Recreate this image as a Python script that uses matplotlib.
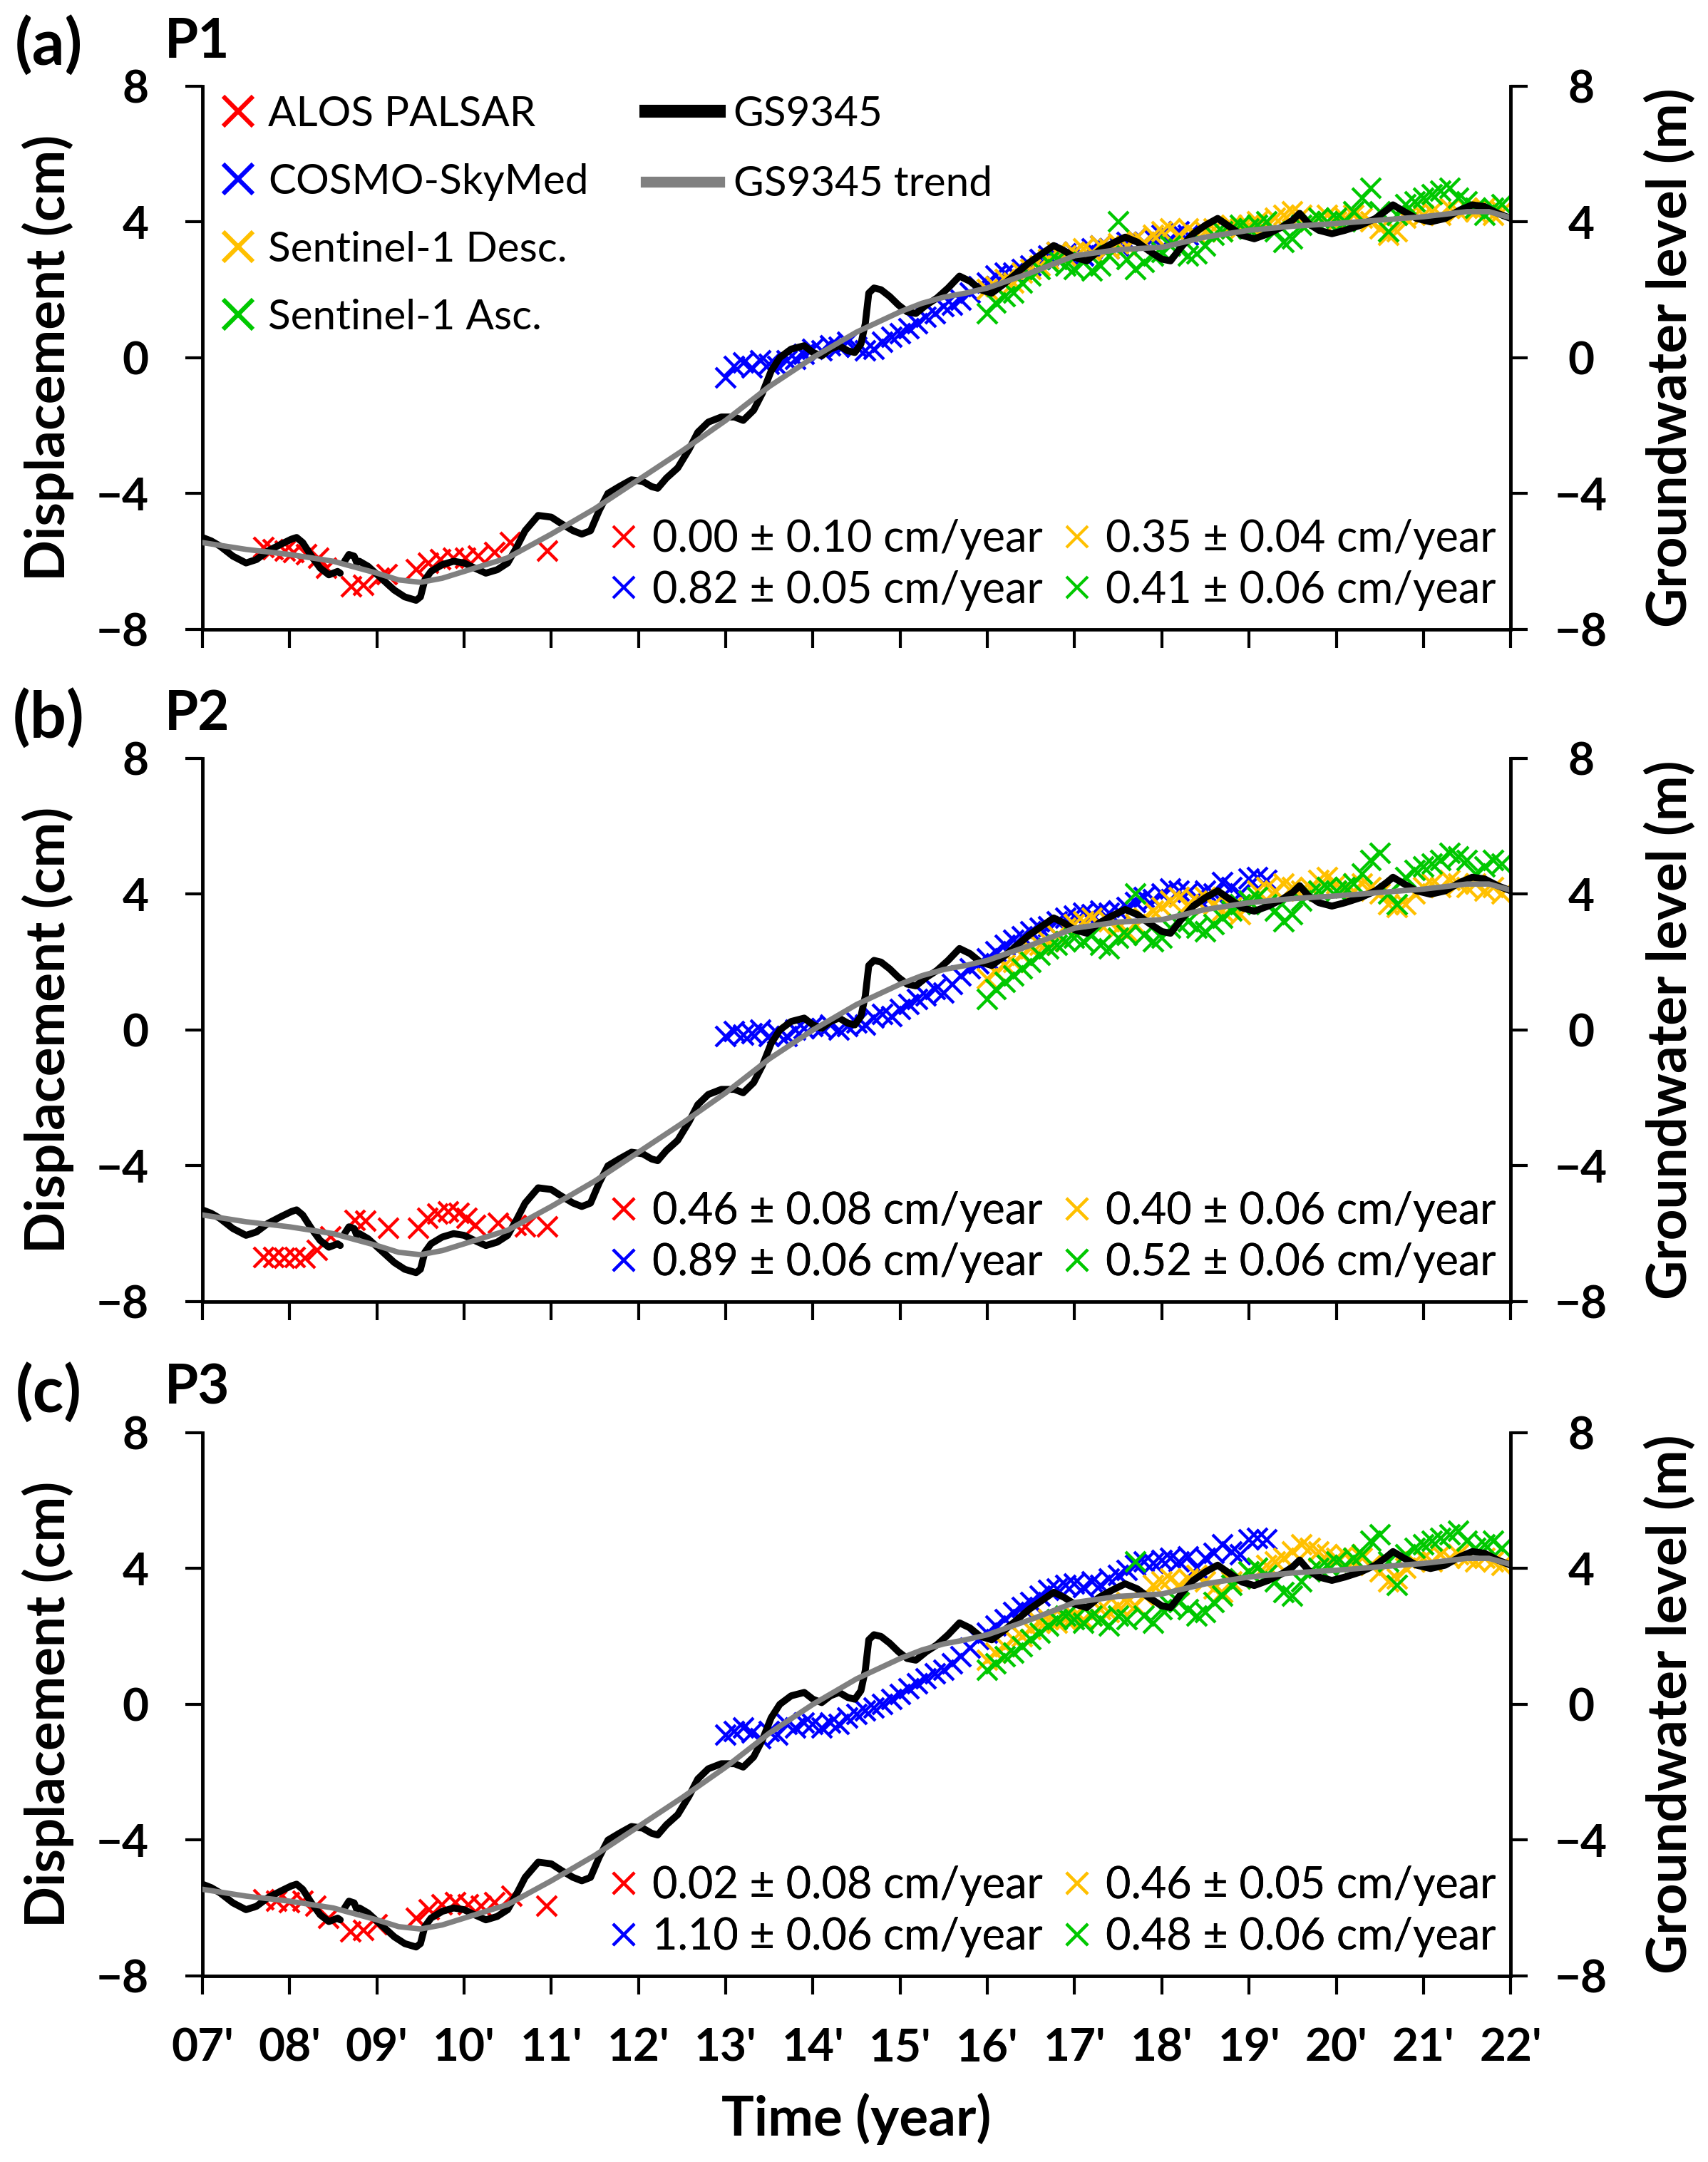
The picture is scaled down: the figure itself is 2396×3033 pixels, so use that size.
import numpy as np
import matplotlib
matplotlib.use('Agg')
import matplotlib.pyplot as plt
from matplotlib.lines import Line2D

plt.rcParams['font.family'] = ['Lato', 'DejaVu Sans']
plt.rcParams['axes.unicode_minus'] = True

# ---------------- data ----------------
year_ticks = list(range(2007, 2023))
year_labels = ["07'", "08'", "09'", "10'", "11'", "12'", "13'", "14'", "15'",
               "16'", "17'", "18'", "19'", "20'", "21'", "22'"]

# Groundwater level GS9345 (m)  (nan = data gap)
gw_t = [2007.00, 2007.10, 2007.20, 2007.35, 2007.50, 2007.62, 2007.75, 2007.90, 2008.02, 2008.08,
        2008.15, 2008.25, 2008.35, 2008.45, 2008.55, 2008.58, np.nan, 2008.63, 2008.68, 2008.74,
        2008.77, np.nan, 2008.80, 2008.90, 2009.05, 2009.20, 2009.32, 2009.45, 2009.50, 2009.55,
        2009.62, 2009.75, 2009.88, 2010.00, 2010.12, 2010.25, 2010.38, 2010.50, 2010.60, 2010.70,
        2010.85, 2011.00, 2011.12, 2011.25, 2011.35, 2011.45, 2011.55, 2011.65, 2011.78, 2011.92,
        2012.05, 2012.15, 2012.22, 2012.32, 2012.45, 2012.58, 2012.68, 2012.80, 2012.95, 2013.10,
        2013.20, 2013.32, 2013.42, 2013.52, 2013.62, 2013.75, 2013.90, 2014.00, 2014.10, 2014.20,
        2014.30, 2014.40, 2014.48, 2014.55, 2014.60, 2014.64, 2014.70, 2014.78, 2014.88, 2014.98,
        2015.08, 2015.18, 2015.30, 2015.42, 2015.55, 2015.68, 2015.80, 2015.92, 2016.05, 2016.18,
        2016.32, 2016.48, 2016.62, 2016.76, 2016.88, 2017.00, 2017.14, 2017.28, 2017.42, 2017.58,
        2017.72, 2017.85, 2018.00, 2018.10, 2018.22, 2018.36, 2018.50, 2018.64, 2018.78, 2018.92,
        2019.06, 2019.22, 2019.38, 2019.50, 2019.58, 2019.68, 2019.80, 2019.95, 2020.10, 2020.28,
        2020.45, 2020.58, 2020.65, 2020.78, 2020.92, 2021.08, 2021.25, 2021.42, 2021.56, 2021.70,
        2021.85, 2022.00]
gw_v = [-5.30, -5.40, -5.55, -5.85, -6.05, -5.95, -5.70, -5.50, -5.35, -5.30,
        -5.45, -5.85, -6.20, -6.40, -6.30, -6.35, np.nan, -6.00, -5.80, -5.85,
        -6.05, np.nan, -6.00, -6.15, -6.50, -6.85, -7.05, -7.15, -7.05, -6.55,
        -6.30, -6.10, -6.00, -6.05, -6.20, -6.35, -6.25, -6.05, -5.60, -5.10,
        -4.65, -4.70, -4.90, -5.10, -5.20, -5.10, -4.50, -4.00, -3.80, -3.60,
        -3.65, -3.80, -3.85, -3.55, -3.25, -2.70, -2.20, -1.90, -1.75, -1.75,
        -1.85, -1.55, -1.05, -0.40, 0.00, 0.25, 0.35, 0.15, 0.05, 0.25,
        0.35, 0.20, 0.15, 0.40, 1.00, 1.90, 2.05, 2.00, 1.80, 1.55,
        1.35, 1.30, 1.55, 1.75, 2.05, 2.40, 2.25, 2.00, 1.90, 2.15,
        2.45, 2.80, 3.05, 3.30, 3.15, 2.95, 2.85, 3.15, 3.35, 3.55,
        3.40, 3.15, 2.90, 2.85, 3.25, 3.65, 3.90, 4.10, 3.85, 3.60,
        3.50, 3.65, 3.85, 4.05, 4.25, 3.95, 3.75, 3.65, 3.75, 3.90,
        4.10, 4.35, 4.50, 4.30, 4.10, 4.00, 4.10, 4.35, 4.50, 4.45,
        4.25, 4.10]

# GS9345 trend (m)
trend_t = [2007.0, 2007.5, 2008.0, 2008.5, 2009.0, 2009.25, 2009.5, 2009.75, 2010.0, 2010.5,
           2011.0, 2011.5, 2012.0, 2012.5, 2013.0, 2013.5, 2014.0, 2014.5, 2015.0, 2015.25,
           2015.5, 2015.75, 2016.0, 2016.5, 2017.0, 2017.5, 2018.0, 2018.5, 2019.0, 2019.5,
           2020.0, 2020.5, 2021.0, 2021.5, 2021.75, 2022.0]
trend_v = [-5.45, -5.65, -5.80, -6.00, -6.35, -6.55, -6.62, -6.50, -6.30, -5.90,
           -5.20, -4.45, -3.60, -2.75, -1.85, -0.85, 0.00, 0.75, 1.35, 1.60,
           1.78, 1.90, 2.05, 2.50, 3.00, 3.18, 3.25, 3.55, 3.75, 3.87,
           3.95, 4.05, 4.15, 4.30, 4.30, 4.12]

# ALOS PALSAR (cm)
alos_t_a = [2007.70, 2007.81, 2007.95, 2008.05, 2008.19, 2008.33, 2008.42, 2008.71, 2008.85, 2009.03,
            2009.12, 2009.45, 2009.59, 2009.73, 2009.88, 2010.02, 2010.16, 2010.35, 2010.53, 2010.96]
alos_v_a = [-5.60, -5.65, -5.70, -5.75, -5.80, -5.90, -6.20, -6.75, -6.70, -6.50,
            -6.40, -6.25, -6.05, -5.95, -5.90, -5.90, -5.85, -5.75, -5.45, -5.70]
alos_t_b = [2007.70, 2007.82, 2007.94, 2008.06, 2008.18, 2008.32, 2008.47, 2008.75, 2008.87, 2009.13,
            2009.48, 2009.58, 2009.70, 2009.82, 2009.94, 2010.03, 2010.13, 2010.39, 2010.60, 2010.70,
            2010.96]
alos_v_b = [-6.70, -6.70, -6.72, -6.70, -6.72, -6.50, -6.10, -5.60, -5.62, -5.85,
            -5.85, -5.55, -5.42, -5.35, -5.40, -5.55, -5.75, -5.70, -5.75, -5.80,
            -5.80]
alos_t_c = [2007.70, 2007.85, 2008.00, 2008.15, 2008.30, 2008.45, 2008.70, 2008.85, 2009.00, 2009.45,
            2009.60, 2009.75, 2009.90, 2010.05, 2010.20, 2010.35, 2010.55, 2010.95]
alos_v_c = [-5.75, -5.80, -5.85, -5.80, -5.95, -6.30, -6.70, -6.65, -6.50, -6.30,
            -6.05, -5.90, -5.85, -5.90, -5.95, -5.85, -5.65, -5.95]

# COSMO-SkyMed (cm), acquisitions every ~0.1 year
csk_start = 2013.0
csk_v_a = [-0.60, -0.25, -0.15, -0.30, -0.10, -0.20, -0.25, -0.10, -0.05, 0.10,
           0.25, 0.20, 0.35, 0.30, 0.45, 0.30, 0.20, 0.25, 0.45, 0.60,
           0.70, 0.85, 1.00, 1.20, 1.30, 1.50, 1.55, 1.70, 1.90, 2.10,
           2.20, 2.40, 2.50, 2.50, 2.60, 2.70, 2.90, 3.00, 3.10, 3.05,
           3.10, 3.00, 3.20, 3.30, 3.20, 3.30, 3.40, 3.50, 3.40, 3.50,
           3.60, 3.50, 3.70, 3.60]
csk_v_b = [-0.20, -0.05, -0.15, -0.10, 0.00, -0.20, -0.10, -0.20, 0.00, 0.05,
           0.10, 0.05, 0.15, 0.00, 0.10, 0.20, 0.15, 0.35, 0.45, 0.40,
           0.60, 0.75, 0.90, 1.00, 1.20, 1.10, 1.35, 1.60, 1.80, 1.95,
           2.10, 2.30, 2.50, 2.65, 2.75, 2.90, 3.00, 3.05, 3.20, 3.30,
           3.35, 3.45, 3.40, 3.50, 3.45, 3.50, 3.60, 3.75, 3.90, 3.85,
           4.00, 4.15, 4.10, 4.05, 3.90, 4.10, 4.00, 4.35, 4.20, 4.00,
           4.45, 4.50, 4.40]
csk_v_c = [-0.90, -0.80, -0.70, -0.85, -1.00, -0.80, -0.90, -0.60, -0.70, -0.55,
           -0.60, -0.70, -0.55, -0.60, -0.40, -0.30, -0.20, -0.10, 0.00, 0.15,
           0.30, 0.45, 0.60, 0.75, 0.90, 1.00, 1.20, 1.40, 1.65, 1.90,
           2.10, 2.30, 2.50, 2.70, 2.85, 3.00, 3.20, 3.35, 3.40, 3.50,
           3.55, 3.45, 3.60, 3.50, 3.70, 3.80, 3.95, 4.10, 4.20, 4.15,
           4.25, 4.30, 4.20, 4.35, 4.00, 4.30, 4.45, 4.70, 4.50, 4.40,
           4.85, 4.90, 4.85]

# Sentinel-1 (cm), 2016.0 - 2021.9 every ~0.1 year
s1_start = 2016.0
s1d_v_a = [2.0, 2.1, 2.3, 2.2, 2.5, 2.6, 2.7, 2.9, 3.1, 3.0,
           3.1, 3.2, 3.1, 3.3, 3.2, 3.35, 3.3, 3.5, 3.4, 3.6,
           3.7, 3.8, 3.6, 3.8, 3.6, 3.7, 3.8, 3.7, 3.9, 3.8,
           3.9, 4.0, 3.9, 4.1, 4.2, 4.3, 4.2, 4.0, 4.1, 4.2,
           4.0, 4.1, 4.2, 4.1, 4.0, 3.8, 3.6, 3.7, 4.1, 4.2,
           4.2, 4.3, 4.2, 4.4, 4.3, 4.4, 4.3, 4.4, 4.2, 4.3]
s1a_v_a = [1.3, 1.6, 1.8, 1.9, 2.2, 2.4, 2.6, 2.8, 2.9, 2.7,
           2.6, 2.8, 2.55, 2.7, 3.0, 4.0, 2.9, 2.6, 2.8, 3.0,
           3.1, 3.3, 3.2, 3.0, 3.05, 3.3, 3.6, 3.7, 3.8, 3.9,
           3.8, 3.9, 4.0, 3.7, 3.4, 3.5, 3.9, 4.0, 4.1, 4.0,
           4.1, 4.0, 4.3, 4.7, 5.0, 4.3, 3.7, 4.2, 4.5, 4.6,
           4.7, 4.8, 4.9, 5.0, 4.7, 4.6, 4.4, 4.2, 4.4, 4.5]
s1d_v_b = [1.5, 1.7, 1.9, 2.0, 2.2, 2.4, 2.5, 2.6, 2.8, 3.0,
           3.1, 3.2, 3.3, 3.1, 3.2, 3.0, 2.9, 3.1, 3.3, 3.5,
           3.6, 3.8, 3.9, 3.7, 3.8, 3.9, 3.7, 3.5, 3.6, 3.4,
           3.8, 4.1, 4.2, 4.1, 4.3, 4.2, 4.1, 4.2, 4.4, 4.5,
           4.3, 4.2, 4.1, 4.3, 4.2, 4.0, 3.7, 3.6, 3.7, 4.0,
           4.2, 4.3, 4.2, 4.4, 4.3, 4.2, 4.3, 4.1, 4.2, 4.0]
s1a_v_b = [0.9, 1.2, 1.4, 1.6, 1.8, 2.0, 2.2, 2.4, 2.5, 2.6,
           2.7, 2.6, 2.8, 2.5, 2.4, 2.7, 2.8, 4.0, 2.8, 2.6,
           2.7, 3.0, 3.1, 3.2, 3.0, 2.9, 3.1, 3.3, 3.5, 3.7,
           3.8, 3.9, 3.7, 3.5, 3.2, 3.4, 3.8, 4.0, 4.1, 4.2,
           4.1, 4.2, 4.3, 4.6, 5.0, 5.2, 4.0, 3.7, 4.5, 4.7,
           4.8, 4.9, 5.0, 5.2, 5.1, 5.0, 4.6, 4.8, 5.0, 4.9]
s1d_v_c = [1.3, 1.5, 1.7, 1.9, 2.0, 2.2, 2.4, 2.5, 2.4, 2.5,
           2.6, 2.5, 2.6, 2.8, 2.7, 2.9, 3.0, 2.9, 3.2, 3.5,
           3.6, 3.7, 3.5, 3.7, 3.8, 3.6, 3.4, 3.3, 3.6, 3.7,
           3.9, 4.0, 4.1, 4.2, 4.3, 4.5, 4.7, 4.6, 4.5, 4.4,
           4.3, 4.4, 4.2, 4.3, 4.1, 3.9, 3.6, 3.7, 4.0, 4.2,
           4.3, 4.2, 4.4, 4.3, 4.4, 4.3, 4.2, 4.3, 4.2, 4.1]
s1a_v_c = [1.0, 1.2, 1.4, 1.5, 1.7, 1.9, 2.1, 2.3, 2.5, 2.6,
           2.5, 2.4, 2.6, 2.5, 2.3, 2.6, 2.5, 4.2, 2.6, 2.4,
           2.8, 2.9, 3.0, 2.8, 2.6, 2.7, 3.0, 3.2, 3.5, 3.7,
           3.9, 4.0, 3.8, 3.6, 3.3, 3.2, 3.6, 3.9, 4.0, 4.1,
           4.2, 4.1, 4.3, 4.4, 4.8, 5.0, 4.2, 3.5, 4.4, 4.6,
           4.7, 4.8, 4.9, 5.0, 5.1, 4.8, 4.6, 4.7, 4.8, 4.6]

panel_letters = ['(a)', '(b)', '(c)']
panel_points = ['P1', 'P2', 'P3']
rates = [
    ['0.00 ± 0.10 cm/year', '0.82 ± 0.05 cm/year', '0.35 ± 0.04 cm/year', '0.41 ± 0.06 cm/year'],
    ['0.46 ± 0.08 cm/year', '0.89 ± 0.06 cm/year', '0.40 ± 0.06 cm/year', '0.52 ± 0.06 cm/year'],
    ['0.02 ± 0.08 cm/year', '1.10 ± 0.06 cm/year', '0.46 ± 0.05 cm/year', '0.48 ± 0.06 cm/year'],
]
alos_t = [alos_t_a, alos_t_b, alos_t_c]
alos_v = [alos_v_a, alos_v_b, alos_v_c]
csk_v = [csk_v_a, csk_v_b, csk_v_c]
s1d_v = [s1d_v_a, s1d_v_b, s1d_v_c]
s1a_v = [s1a_v_a, s1a_v_b, s1a_v_c]

C_RED, C_BLUE, C_YEL, C_GRN = '#FF0000', '#0000FF', '#FFC000', '#00C800'
C_GW, C_TR = '#000000', '#808080'

# ---------------- figure ----------------
fig = plt.figure(figsize=(23.96, 30.33), dpi=100)
L, W = 0.1185, 0.766
bottoms = [0.709, 0.398, 0.0861]
H = 0.2512

TICK_FS = 46
LAB_FS = 55
LEG_FS = 42
RATE_FS = 44
MS, MEW = 19.5, 3.1

for i in range(3):
    ax = fig.add_axes([L, bottoms[i], W, H])
    ax2 = ax.twinx()
    ax.set_zorder(1)
    ax2.set_zorder(2)
    ax2.patch.set_visible(False)

    n_c = len(csk_v[i])
    t_c = np.round(np.linspace(csk_start, csk_start + 0.1 * (n_c - 1), n_c), 2)
    n_s = len(s1d_v[i])
    t_s = np.round(np.linspace(s1_start, s1_start + 0.1 * (n_s - 1), n_s), 2)

    ax.plot(alos_t[i], alos_v[i], 'x', color=C_RED, ms=MS, mew=MEW, ls='none')
    ax.plot(t_c, csk_v[i], 'x', color=C_BLUE, ms=MS, mew=MEW, ls='none')
    ax.plot(t_s, s1d_v[i], 'x', color=C_YEL, ms=MS, mew=MEW, ls='none')
    ax.plot(t_s, s1a_v[i], 'x', color=C_GRN, ms=MS, mew=MEW, ls='none')

    ax2.plot(gw_t, gw_v, color=C_GW, lw=7, solid_capstyle='round', solid_joinstyle='round')
    ax2.plot(trend_t, trend_v, color=C_TR, lw=5.5, solid_capstyle='round')

    for a in (ax, ax2):
        a.set_xlim(2007, 2022)
        a.set_ylim(-8, 8)
        a.set_yticks([-8, -4, 0, 4, 8])
        a.spines['top'].set_visible(False)
    ax.spines['right'].set_visible(False)
    ax2.spines['left'].set_visible(False)
    ax2.spines['bottom'].set_visible(False)
    for s in ('left', 'bottom'):
        ax.spines[s].set_linewidth(3.5)
    ax2.spines['right'].set_linewidth(3.5)

    ax.set_xticks(year_ticks)
    if i == 2:
        ax.set_xticklabels(year_labels, fontsize=TICK_FS, fontweight='bold')
        ax.set_xlabel('Time (year)', fontsize=LAB_FS, fontweight='bold')
        ax.xaxis.set_label_coords(0.5, -0.215)
    else:
        ax.set_xticklabels([])
    ax.tick_params(axis='x', direction='out', length=19, width=3, pad=33)
    ax.tick_params(axis='y', direction='out', length=17, width=3, pad=37,
                   labelsize=TICK_FS)
    ax2.tick_params(axis='y', direction='out', length=17, width=3, pad=54,
                    labelsize=TICK_FS)
    for lab in ax.get_yticklabels():
        lab.set_fontweight('bold')
    for lab in ax2.get_yticklabels():
        lab.set_fontweight('bold')
        lab.set_horizontalalignment('center')

    ax.set_ylabel('Displacement (cm)', fontsize=LAB_FS, fontweight='bold', va='center')
    ax.yaxis.set_label_coords(-0.118, 0.5)
    ax2.set_ylabel('Groundwater level (m)', fontsize=LAB_FS, fontweight='bold',
                   va='center', rotation=90)
    ax2.yaxis.set_label_coords(1.122, 0.5)

    # panel labels
    top_px = 3033 * (1 - bottoms[i] - H)
    fig.text(68 / 2396, 1 - (top_px - 56) / 3033, panel_letters[i], fontsize=65,
             fontweight='bold', ha='center', va='center')
    fig.text(277 / 2396, 1 - (top_px - 62) / 3033, panel_points[i], fontsize=55,
             fontweight='bold', ha='center', va='center')

    # rate legend
    rh = [Line2D([], [], ls='none', marker='x', color=c, ms=22, mew=3.0)
          for c in (C_RED, C_BLUE, C_YEL, C_GRN)]
    rl = ax2.legend(rh, rates[i], loc='lower left', bbox_to_anchor=(0.312, 0.034),
                    ncol=2, frameon=False, fontsize=RATE_FS, borderpad=0,
                    borderaxespad=0, handlelength=0.6, handletextpad=0.35,
                    columnspacing=0.5, labelspacing=0.24)
    ax2.add_artist(rl)

    if i == 0:
        mh = [Line2D([], [], ls='none', marker='x', color=c, ms=30, mew=4.5)
              for c in (C_RED, C_BLUE, C_YEL, C_GRN)]
        l1 = ax2.legend(mh, ['ALOS PALSAR', 'COSMO-SkyMed', 'Sentinel-1 Desc.', 'Sentinel-1 Asc.'],
                        loc='upper left', bbox_to_anchor=(0.0147, 0.983), frameon=False,
                        fontsize=LEG_FS, borderpad=0, borderaxespad=0, handlelength=0.78,
                        handletextpad=0.34, labelspacing=0.72)
        ax2.add_artist(l1)
        lh = [Line2D([], [], color=C_GW, lw=13), Line2D([], [], color=C_TR, lw=11)]
        ax2.legend(lh, ['GS9345', 'GS9345 trend'], loc='upper left',
                   bbox_to_anchor=(0.339, 0.983), frameon=False, fontsize=LEG_FS,
                   borderpad=0, borderaxespad=0, handlelength=1.76, handletextpad=0.34,
                   labelspacing=0.78)

fig.savefig('out.png', dpi=100)
